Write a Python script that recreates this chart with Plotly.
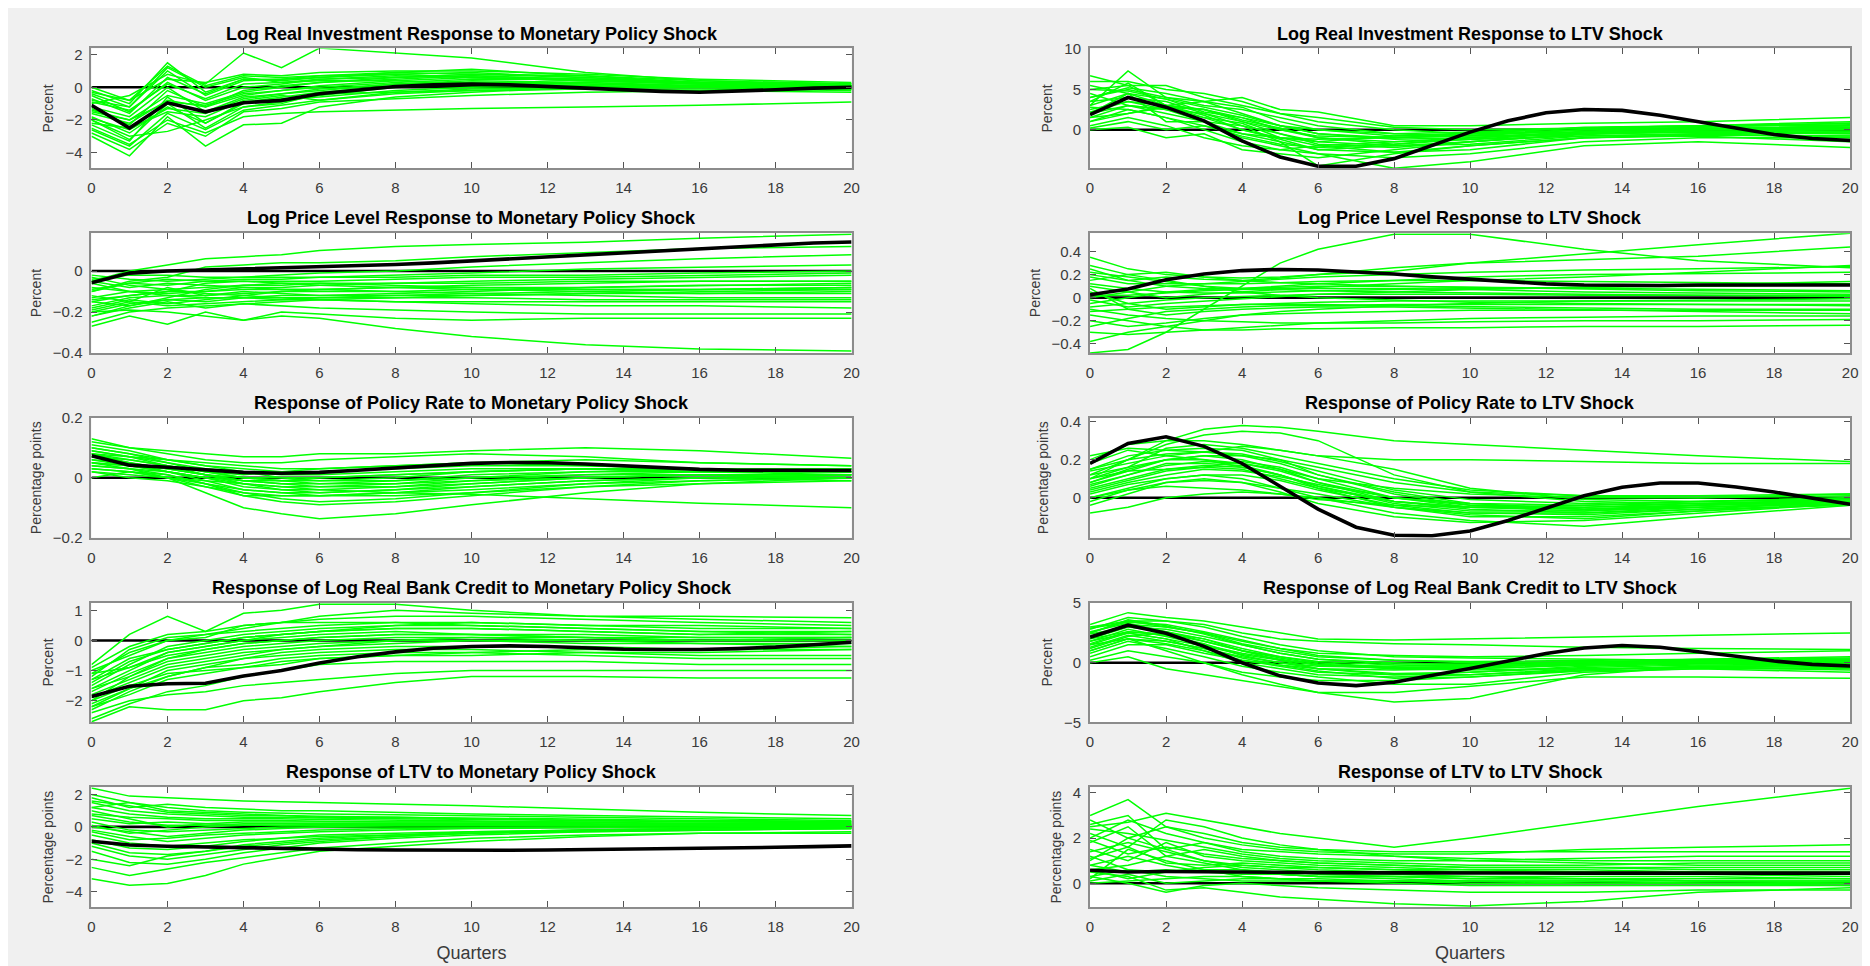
import plotly.graph_objects as go

# ---------------- data ----------------
QUARTERS = list(range(21))
GRID_Q = [0, 1, 2, 3, 4, 5, 6, 8, 10, 13, 16, 20]   # quarters at which country lines were read
X_TICKS = list(range(0, 21, 2))

# Panel 1: Log Real Investment Response to Monetary Policy Shock
TITLE_INV_MP = "Log Real Investment Response to Monetary Policy Shock"
MEAN_INV_MP = [-1.1, -2.5, -0.95, -1.5, -0.95, -0.8, -0.4, -0.15, 0.05, 0.15, 0.2,
               0.15, 0.05, -0.05, -0.2, -0.25, -0.3, -0.25, -0.15, -0.05, 0.0]
LINES_INV_MP = [
    [-0.2, -1.0, 1.5, -0.3, 0.5, 0.4, 0.6, 0.8, 0.9, 0.6, 0.3, 0.1],
    [-3.0, -4.2, -1.8, -3.6, -2.3, -2.2, -1.2, -0.6, -0.3, 0.0, 0.1, 0.0],
    [-1.0, -0.5, 0.8, 0.2, 2.1, 1.2, 2.4, 2.1, 1.8, 0.9, 0.4, 0.2],
    [-2.0, -3.0, -2.7, -2.0, -1.2, -0.9, -0.5, 0.0, 0.3, 0.3, 0.1, 0.0],
    [-0.5, -1.5, 0.3, -0.8, 0.0, 0.2, 0.5, 0.7, 0.6, 0.4, 0.2, 0.1],
    [-2.5, -3.5, -2.0, -2.8, -1.8, -1.6, -1.5, -1.4, -1.3, -1.2, -1.1, -0.9],
    [-1.5, -2.0, -0.5, -1.0, -0.3, 0.0, 0.3, 0.5, 0.7, 0.5, 0.2, 0.0],
    [0.0, -0.8, 0.5, 0.3, 0.8, 0.7, 0.9, 1.0, 1.0, 0.8, 0.5, 0.3],
    [-1.8, -2.8, -1.2, -2.2, -1.0, -0.7, -0.6, -0.2, 0.0, 0.1, 0.0, -0.1],
    [-1.2, -1.8, 0.0, -1.5, -0.6, -0.4, -0.2, 0.2, 0.4, 0.3, 0.1, 0.0],
    [-2.2, -2.5, -1.5, -1.8, -0.8, -0.5, -0.8, -0.4, -0.2, -0.1, -0.2, -0.3],
    [-0.8, -1.2, 1.0, -0.5, 0.4, 0.5, 0.7, 0.9, 0.8, 0.7, 0.4, 0.2],
    [-2.8, -3.8, -2.2, -3.0, -1.5, -1.3, -0.9, -0.7, -0.5, -0.3, -0.2, -0.1],
    [-1.6, -2.2, -0.8, -1.2, -0.5, -0.2, 0.0, 0.3, 0.5, 0.5, 0.3, 0.1],
    [-0.4, -1.2, 1.2, 0.0, 0.6, 0.3, 0.4, 0.4, 0.2, 0.2, 0.1, 0.0],
    [-2.0, -3.2, -1.0, -2.5, -1.2, -1.0, -0.4, -0.3, -0.2, -0.1, -0.1, -0.2],
    [-1.3, -2.3, -0.2, -1.2, -0.2, 0.1, 0.3, 0.6, 0.7, 0.5, 0.3, 0.1],
    [-0.7, -1.6, 0.6, -0.4, 0.5, 0.5, 0.6, 0.9, 1.1, 0.7, 0.3, 0.1],
    [-1.9, -2.6, -1.3, -1.6, -0.7, -0.4, -0.1, 0.2, 0.3, 0.2, 0.0, -0.1],
    [-2.3, -3.3, -0.6, -2.2, -0.9, -0.6, -0.3, 0.1, 0.2, 0.1, 0.0, 0.0],
    [-0.9, -1.4, 0.2, -0.7, 0.2, 0.3, 0.5, 0.6, 0.8, 0.6, 0.3, 0.2],
    [-1.4, -2.0, -0.9, -1.1, -0.4, -0.2, 0.1, 0.4, 0.6, 0.4, 0.2, 0.0],
    [-0.3, -0.8, 1.3, 0.1, 0.7, 0.6, 0.7, 0.8, 0.6, 0.4, 0.2, 0.1],
    [-2.6, -3.6, -1.6, -2.6, -1.4, -1.1, -0.8, -0.3, -0.1, 0.0, 0.0, -0.1],
]

# Panel 2: Log Real Investment Response to LTV Shock
TITLE_INV_LTV = "Log Real Investment Response to LTV Shock"
MEAN_INV_LTV = [1.86, 4.0, 2.8, 1.1, -1.4, -3.4, -4.55, -4.55, -3.6, -2.0, -0.3,
                1.1, 2.1, 2.5, 2.4, 1.8, 1.0, 0.1, -0.6, -1.1, -1.35]
LINES_INV_LTV = [
    [6.7, 5.5, 5.5, 4.0, 3.0, 2.0, 1.0, 0.0, -0.5, -0.3, 0.0, 0.5],
    [0.0, 0.3, -1.0, -0.5, -2.5, -3.0, -3.5, -2.5, -1.5, -0.5, -0.3, -0.5],
    [3.0, 7.3, 4.0, 3.5, 4.0, 2.5, 2.2, 0.5, 0.5, 0.8, 1.0, 1.5],
    [2.0, 3.0, 2.0, 1.0, -1.0, -2.0, -3.0, -4.8, -4.0, -2.0, -1.5, -2.2],
    [5.5, 4.5, 3.0, 2.5, 1.0, 0.0, -1.0, -1.5, -1.2, -0.8, -0.5, -0.3],
    [1.0, 2.5, 1.5, 0.0, -1.5, -2.5, -3.0, -3.5, -3.0, -1.5, -1.0, -1.0],
    [4.0, 5.0, 4.0, 3.0, 2.5, 1.5, 0.5, -0.5, -0.8, -0.5, 0.0, 0.5],
    [0.5, 1.5, 0.5, -1.0, -2.0, -2.5, -2.0, -1.5, -1.0, -0.5, 0.0, 0.2],
    [3.5, 4.0, 3.5, 2.0, 1.0, -0.5, -1.5, -2.0, -1.5, -0.5, -0.3, -0.5],
    [6.0, 6.0, 5.0, 4.5, 3.5, 2.0, 1.5, 0.3, 0.0, 0.2, 0.5, 1.0],
    [2.5, 3.5, 2.5, 1.5, 0.0, -1.0, -2.0, -2.8, -2.5, -1.0, -0.8, -1.5],
    [1.5, 2.0, 3.0, 2.5, 1.5, 0.5, -0.5, -1.0, -0.8, 0.0, 0.3, 0.8],
    [4.5, 3.0, 2.5, 1.0, -0.5, -1.5, -4.5, -3.0, -2.0, -1.0, -0.6, -0.8],
    [0.2, 1.0, 0.0, 0.5, -0.5, -1.0, -1.2, -1.0, -0.5, 0.0, 0.0, -0.2],
    [5.0, 5.5, 3.0, 3.5, 2.0, 0.5, 0.0, -0.8, -0.5, 0.3, 0.5, 0.5],
    [2.0, 4.5, 1.0, 1.0, 0.5, -1.5, -2.5, -2.0, -1.8, -0.8, -0.5, -1.0],
    [3.0, 4.5, 3.8, 2.8, 1.8, 0.5, -0.5, -1.2, -1.0, -0.3, 0.0, 0.0],
    [1.5, 3.0, 2.5, 2.0, 0.5, -0.5, -1.8, -2.2, -1.5, -0.6, -0.2, -0.3],
    [4.0, 5.2, 4.5, 3.5, 2.8, 1.0, 0.0, -0.5, -0.3, 0.2, 0.4, 0.6],
    [2.2, 3.5, 3.0, 1.8, 0.0, -1.2, -2.5, -2.8, -2.0, -1.0, -0.7, -0.8],
    [5.0, 4.8, 3.8, 2.2, 1.5, 0.0, -0.8, -1.0, -0.7, 0.0, 0.2, 0.3],
    [1.0, 2.0, 2.8, 2.5, 1.2, 0.2, -1.0, -1.8, -1.2, -0.4, 0.0, 0.2],
    [3.5, 5.8, 3.0, 1.5, 0.8, -1.0, -1.5, -0.8, -0.4, 0.2, 0.5, 0.8],
    [2.8, 2.5, 1.5, 0.5, -0.8, -1.8, -2.2, -1.8, -1.0, -0.2, 0.2, 0.0],
]

# Panel 3: Log Price Level Response to Monetary Policy Shock
TITLE_P_MP = "Log Price Level Response to Monetary Policy Shock"
MEAN_P_MP = [-0.057, -0.01, 0.0, 0.005, 0.01, 0.013, 0.018, 0.024, 0.032, 0.04, 0.05,
             0.06, 0.07, 0.08, 0.09, 0.10, 0.11, 0.12, 0.13, 0.137, 0.142]
LINES_P_MP = [
    [-0.05, 0.0, 0.03, 0.06, 0.07, 0.08, 0.10, 0.12, 0.13, 0.14, 0.16, 0.18],
    [-0.20, -0.19, -0.20, -0.22, -0.24, -0.22, -0.23, -0.28, -0.32, -0.36, -0.38, -0.39],
    [-0.10, -0.05, -0.03, 0.02, 0.03, 0.04, 0.04, 0.05, 0.07, 0.09, 0.11, 0.12],
    [-0.27, -0.22, -0.26, -0.20, -0.24, -0.20, -0.21, -0.23, -0.24, -0.23, -0.23, -0.23],
    [-0.15, -0.12, -0.10, -0.10, -0.08, -0.08, -0.07, -0.06, -0.05, -0.04, -0.03, -0.02],
    [-0.08, -0.10, -0.12, -0.13, -0.13, -0.14, -0.14, -0.15, -0.15, -0.15, -0.15, -0.15],
    [-0.22, -0.18, -0.15, -0.18, -0.16, -0.17, -0.18, -0.19, -0.20, -0.21, -0.21, -0.21],
    [-0.02, -0.04, -0.05, -0.04, -0.03, -0.02, -0.01, 0.00, 0.02, 0.04, 0.06, 0.08],
    [-0.12, -0.15, -0.08, -0.12, -0.10, -0.11, -0.12, -0.12, -0.12, -0.11, -0.11, -0.10],
    [-0.18, -0.14, -0.16, -0.14, -0.12, -0.10, -0.09, -0.08, -0.07, -0.06, -0.05, -0.05],
    [-0.05, -0.08, -0.06, -0.07, -0.08, -0.09, -0.09, -0.10, -0.11, -0.12, -0.13, -0.13],
    [-0.25, -0.20, -0.18, -0.17, -0.16, -0.15, -0.14, -0.13, -0.12, -0.11, -0.10, -0.09],
    [-0.10, -0.06, -0.04, -0.05, -0.04, -0.04, -0.03, -0.02, -0.01, 0.01, 0.02, 0.03],
    [-0.15, -0.17, -0.13, -0.09, -0.07, -0.06, -0.06, -0.07, -0.08, -0.09, -0.09, -0.09],
    [-0.03, -0.07, -0.09, -0.11, -0.12, -0.13, -0.14, -0.15, -0.16, -0.17, -0.17, -0.18],
    [-0.20, -0.16, -0.14, -0.15, -0.13, -0.12, -0.12, -0.11, -0.10, -0.08, -0.07, -0.06],
    [-0.13, -0.10, -0.09, -0.08, -0.07, -0.07, -0.06, -0.06, -0.06, -0.05, -0.05, -0.05],
    [-0.06, -0.10, -0.11, -0.10, -0.09, -0.09, -0.09, -0.08, -0.08, -0.08, -0.07, -0.07],
    [-0.17, -0.13, -0.12, -0.12, -0.11, -0.10, -0.10, -0.10, -0.09, -0.09, -0.09, -0.08],
    [-0.09, -0.06, -0.07, -0.05, -0.05, -0.05, -0.05, -0.04, -0.03, -0.03, -0.02, -0.01],
    [-0.22, -0.17, -0.14, -0.13, -0.13, -0.13, -0.13, -0.13, -0.13, -0.14, -0.14, -0.14],
    [-0.04, -0.02, -0.02, -0.03, -0.03, -0.03, -0.03, -0.03, -0.02, -0.02, -0.01, 0.00],
    [-0.14, -0.12, -0.10, -0.06, -0.05, -0.06, -0.07, -0.08, -0.09, -0.10, -0.11, -0.11],
    [-0.19, -0.15, -0.17, -0.16, -0.15, -0.14, -0.13, -0.12, -0.11, -0.10, -0.09, -0.08],
]

# Panel 4: Log Price Level Response to LTV Shock
TITLE_P_LTV = "Log Price Level Response to LTV Shock"
MEAN_P_LTV = [0.025, 0.075, 0.155, 0.205, 0.235, 0.245, 0.24, 0.225, 0.205, 0.18, 0.16,
              0.14, 0.12, 0.11, 0.105, 0.105, 0.11, 0.11, 0.115, 0.115, 0.11]
LINES_P_LTV = [
    [-0.48, -0.45, -0.30, -0.10, 0.10, 0.30, 0.42, 0.55, 0.55, 0.42, 0.32, 0.26],
    [0.35, 0.25, 0.20, 0.18, 0.17, 0.18, 0.20, 0.23, 0.30, 0.38, 0.46, 0.56],
    [0.20, 0.15, 0.18, 0.16, 0.15, 0.17, 0.20, 0.26, 0.30, 0.33, 0.36, 0.44],
    [-0.30, -0.32, -0.30, -0.28, -0.28, -0.27, -0.27, -0.26, -0.26, -0.25, -0.25, -0.24],
    [0.10, 0.05, 0.00, 0.03, 0.05, 0.07, 0.09, 0.12, 0.15, 0.18, 0.22, 0.28],
    [-0.10, -0.15, -0.18, -0.20, -0.21, -0.22, -0.22, -0.22, -0.21, -0.20, -0.20, -0.19],
    [0.25, 0.15, 0.10, 0.08, 0.08, 0.10, 0.12, 0.15, 0.18, 0.20, 0.21, 0.22],
    [0.05, -0.05, -0.10, -0.08, -0.06, -0.05, -0.04, -0.03, -0.03, -0.03, -0.03, -0.03],
    [-0.20, -0.25, -0.22, -0.18, -0.15, -0.14, -0.13, -0.12, -0.11, -0.11, -0.11, -0.11],
    [0.15, 0.20, 0.22, 0.18, 0.15, 0.13, 0.12, 0.10, 0.09, 0.08, 0.07, 0.06],
    [-0.05, 0.00, 0.05, 0.07, 0.08, 0.09, 0.10, 0.10, 0.09, 0.08, 0.06, 0.05],
    [-0.38, -0.30, -0.25, -0.20, -0.15, -0.12, -0.10, -0.07, -0.05, -0.03, -0.02, -0.01],
    [0.08, -0.10, -0.15, -0.12, -0.10, -0.09, -0.08, -0.08, -0.09, -0.10, -0.12, -0.14],
    [-0.15, -0.20, -0.25, -0.28, -0.26, -0.24, -0.22, -0.20, -0.18, -0.17, -0.16, -0.16],
    [0.28, 0.20, 0.15, 0.10, 0.05, 0.02, 0.00, -0.02, -0.04, -0.05, -0.06, -0.07],
    [0.00, 0.05, 0.10, 0.12, 0.14, 0.16, 0.18, 0.20, 0.22, 0.24, 0.25, 0.27],
    [0.12, 0.08, 0.05, 0.04, 0.04, 0.05, 0.06, 0.07, 0.08, 0.09, 0.10, 0.11],
    [-0.08, -0.05, -0.02, 0.00, 0.01, 0.02, 0.03, 0.03, 0.03, 0.02, 0.02, 0.02],
    [0.18, 0.12, 0.12, 0.12, 0.12, 0.13, 0.14, 0.15, 0.15, 0.14, 0.13, 0.12],
    [-0.25, -0.18, -0.12, -0.10, -0.08, -0.07, -0.07, -0.06, -0.06, -0.06, -0.06, -0.06],
    [0.02, 0.02, 0.04, 0.06, 0.07, 0.08, 0.08, 0.08, 0.07, 0.05, 0.04, 0.03],
    [-0.12, -0.10, -0.08, -0.07, -0.06, -0.06, -0.06, -0.07, -0.08, -0.09, -0.10, -0.10],
    [0.22, 0.18, 0.14, 0.10, 0.08, 0.07, 0.06, 0.05, 0.04, 0.03, 0.02, 0.01],
    [-0.02, -0.08, -0.05, -0.03, -0.01, 0.01, 0.03, 0.05, 0.07, 0.09, 0.11, 0.14],
]

# Panel 5: Response of Policy Rate to Monetary Policy Shock
TITLE_R_MP = "Response of Policy Rate to Monetary Policy Shock"
MEAN_R_MP = [0.073, 0.042, 0.035, 0.028, 0.018, 0.015, 0.018, 0.025, 0.033, 0.042, 0.048,
             0.051, 0.05, 0.046, 0.04, 0.033, 0.028, 0.025, 0.024, 0.024, 0.024]
LINES_R_MP = [
    [0.13, 0.10, 0.09, 0.08, 0.07, 0.07, 0.08, 0.08, 0.09, 0.10, 0.09, 0.065],
    [0.05, 0.03, 0.00, -0.05, -0.10, -0.12, -0.137, -0.12, -0.09, -0.05, -0.02, 0.00],
    [0.10, 0.08, 0.05, 0.02, 0.00, -0.01, -0.02, -0.02, -0.01, 0.00, 0.01, 0.01],
    [0.02, 0.01, 0.00, -0.01, -0.02, -0.03, -0.04, -0.05, -0.055, -0.07, -0.085, -0.10],
    [0.08, 0.06, 0.04, 0.02, 0.01, 0.02, 0.03, 0.04, 0.05, 0.04, 0.03, 0.02],
    [0.04, 0.03, 0.01, -0.02, -0.05, -0.07, -0.08, -0.07, -0.05, -0.02, 0.00, 0.01],
    [0.12, 0.10, 0.08, 0.06, 0.05, 0.05, 0.06, 0.07, 0.08, 0.07, 0.05, 0.04],
    [0.06, 0.04, 0.02, 0.00, -0.03, -0.04, -0.05, -0.04, -0.02, 0.00, 0.01, 0.00],
    [0.00, 0.02, 0.01, -0.02, -0.06, -0.08, -0.09, -0.08, -0.06, -0.03, -0.01, 0.00],
    [0.09, 0.07, 0.05, 0.03, 0.02, 0.01, 0.01, 0.02, 0.03, 0.03, 0.02, 0.01],
    [0.03, 0.02, 0.00, -0.02, -0.04, -0.05, -0.05, -0.04, -0.03, -0.01, 0.00, -0.01],
    [0.07, 0.05, 0.03, 0.01, -0.01, -0.02, -0.03, -0.02, 0.00, 0.02, 0.03, 0.03],
    [0.11, 0.09, 0.06, 0.04, 0.02, 0.00, -0.01, -0.01, 0.00, 0.01, 0.02, 0.02],
    [0.05, 0.04, 0.03, 0.01, 0.00, 0.00, 0.00, 0.01, 0.02, 0.03, 0.03, 0.02],
    [0.02, 0.00, -0.01, -0.03, -0.05, -0.06, -0.06, -0.06, -0.05, -0.03, -0.02, -0.01],
    [0.08, 0.07, 0.06, 0.05, 0.04, 0.03, 0.03, 0.04, 0.05, 0.06, 0.05, 0.04],
    [0.06, 0.05, 0.03, 0.01, -0.01, -0.02, -0.02, -0.01, 0.01, 0.02, 0.02, 0.02],
    [0.09, 0.07, 0.04, 0.01, -0.02, -0.04, -0.04, -0.03, -0.01, 0.01, 0.01, 0.01],
    [0.04, 0.03, 0.02, 0.00, -0.01, -0.01, 0.00, 0.01, 0.02, 0.03, 0.02, 0.02],
    [0.07, 0.06, 0.04, 0.02, 0.00, -0.01, -0.01, 0.00, 0.02, 0.03, 0.03, 0.03],
    [0.03, 0.02, 0.00, -0.03, -0.06, -0.06, -0.06, -0.05, -0.04, -0.02, -0.01, 0.00],
    [0.10, 0.08, 0.06, 0.04, 0.03, 0.02, 0.02, 0.03, 0.04, 0.04, 0.03, 0.03],
    [0.05, 0.04, 0.02, 0.00, -0.02, -0.03, -0.03, -0.03, -0.02, 0.00, 0.01, 0.01],
    [0.08, 0.05, 0.02, -0.01, -0.04, -0.05, -0.06, -0.05, -0.03, -0.01, 0.00, 0.00],
]

# Panel 6: Response of Policy Rate to LTV Shock
TITLE_R_LTV = "Response of Policy Rate to LTV Shock"
MEAN_R_LTV = [0.18, 0.285, 0.32, 0.27, 0.18, 0.06, -0.06, -0.155, -0.197, -0.2, -0.175,
              -0.12, -0.056, 0.01, 0.055, 0.077, 0.077, 0.056, 0.03, 0.0, -0.034]
LINES_R_LTV = [
    [0.10, 0.20, 0.30, 0.36, 0.38, 0.37, 0.35, 0.30, 0.28, 0.25, 0.22, 0.19],
    [0.20, 0.28, 0.30, 0.30, 0.28, 0.25, 0.22, 0.20, 0.20, 0.19, 0.18, 0.18],
    [-0.08, -0.05, 0.00, 0.02, 0.03, 0.02, 0.00, -0.05, -0.08, -0.09, -0.06, -0.02],
    [0.15, 0.22, 0.25, 0.26, 0.25, 0.20, 0.12, 0.03, -0.03, -0.06, -0.04, -0.02],
    [0.05, 0.10, 0.15, 0.16, 0.15, 0.10, 0.05, -0.02, -0.05, -0.07, -0.05, -0.03],
    [0.12, 0.20, 0.28, 0.33, 0.35, 0.34, 0.30, 0.12, 0.03, -0.02, -0.03, -0.01],
    [0.00, 0.05, 0.10, 0.12, 0.10, 0.05, 0.00, -0.08, -0.12, -0.15, -0.10, -0.04],
    [0.18, 0.25, 0.22, 0.20, 0.18, 0.15, 0.10, 0.05, 0.02, 0.00, 0.00, 0.01],
    [0.08, 0.15, 0.20, 0.22, 0.20, 0.15, 0.08, -0.02, -0.05, -0.05, -0.03, -0.01],
    [-0.04, 0.02, 0.08, 0.10, 0.08, 0.03, -0.03, -0.10, -0.13, -0.12, -0.08, -0.03],
    [0.22, 0.26, 0.25, 0.24, 0.22, 0.20, 0.16, 0.08, 0.03, 0.01, 0.01, 0.02],
    [0.03, 0.08, 0.12, 0.15, 0.14, 0.11, 0.07, 0.00, -0.03, -0.04, -0.03, -0.02],
    [0.14, 0.18, 0.22, 0.24, 0.27, 0.25, 0.22, 0.15, 0.05, -0.01, -0.02, 0.00],
    [0.06, 0.12, 0.18, 0.18, 0.17, 0.12, 0.05, -0.05, -0.10, -0.10, -0.07, -0.03],
    [-0.02, 0.04, 0.06, 0.05, 0.04, 0.02, -0.01, -0.04, -0.05, -0.04, -0.02, -0.01],
    [0.10, 0.16, 0.26, 0.28, 0.26, 0.22, 0.18, 0.10, 0.04, 0.01, 0.00, 0.02],
    [0.07, 0.12, 0.17, 0.19, 0.18, 0.14, 0.08, 0.00, -0.04, -0.06, -0.04, -0.02],
    [0.12, 0.16, 0.20, 0.22, 0.22, 0.18, 0.12, 0.02, -0.04, -0.05, -0.04, -0.01],
    [0.02, 0.07, 0.10, 0.12, 0.12, 0.09, 0.04, -0.04, -0.08, -0.08, -0.05, -0.02],
    [0.10, 0.14, 0.15, 0.17, 0.16, 0.12, 0.06, -0.03, -0.07, -0.07, -0.04, -0.02],
    [0.04, 0.09, 0.14, 0.16, 0.19, 0.16, 0.10, 0.00, -0.05, -0.06, -0.05, -0.03],
    [0.15, 0.20, 0.23, 0.24, 0.23, 0.19, 0.14, 0.04, -0.01, -0.03, -0.02, 0.00],
    [0.00, 0.04, 0.08, 0.09, 0.08, 0.05, 0.02, -0.05, -0.09, -0.11, -0.07, -0.03],
    [0.08, 0.14, 0.20, 0.20, 0.16, 0.12, 0.06, -0.02, -0.06, -0.08, -0.06, -0.04],
]

# Panel 7: Response of Log Real Bank Credit to Monetary Policy Shock
TITLE_C_MP = "Response of Log Real Bank Credit to Monetary Policy Shock"
MEAN_C_MP = [-1.86, -1.52, -1.44, -1.42, -1.18, -1.0, -0.75, -0.54, -0.38, -0.26, -0.2,
             -0.18, -0.2, -0.25, -0.29, -0.3, -0.3, -0.27, -0.22, -0.14, -0.06]
LINES_C_MP = [
    [-2.7, -2.2, -2.3, -2.3, -2.0, -1.9, -1.7, -1.4, -1.2, -1.2, -1.25, -1.25],
    [-0.8, 0.2, 0.8, 0.3, 0.9, 1.0, 1.2, 1.2, 1.0, 0.8, 0.7, 0.6],
    [-1.5, -0.8, -0.2, 0.0, 0.2, 0.3, 0.4, 0.5, 0.5, 0.4, 0.3, 0.2],
    [-2.4, -2.0, -1.8, -1.7, -1.5, -1.4, -1.3, -1.1, -1.0, -1.0, -1.0, -1.0],
    [-1.2, -0.3, 0.1, 0.2, 0.4, 0.6, 0.7, 0.8, 0.8, 0.7, 0.6, 0.5],
    [-2.0, -1.2, -0.6, -0.4, -0.2, -0.1, 0.0, 0.1, 0.1, 0.0, -0.1, -0.1],
    [-1.0, -0.5, 0.0, 0.1, 0.5, 0.6, 0.8, 1.0, 0.9, 0.8, 0.8, 0.75],
    [-2.2, -1.6, -1.0, -0.8, -0.6, -0.5, -0.4, -0.3, -0.3, -0.4, -0.5, -0.5],
    [-1.6, -1.0, -0.4, -0.2, 0.0, 0.1, 0.2, 0.3, 0.2, 0.1, 0.0, 0.0],
    [-2.6, -2.1, -1.7, -1.5, -1.2, -1.0, -0.8, -0.7, -0.7, -0.7, -0.8, -0.8],
    [-0.9, -0.2, 0.2, 0.3, 0.5, 0.6, 0.6, 0.6, 0.5, 0.4, 0.3, 0.3],
    [-1.8, -1.3, -0.8, -0.6, -0.4, -0.3, -0.2, -0.1, 0.0, 0.0, 0.0, 0.1],
    [-1.3, -0.6, -0.3, -0.1, 0.1, 0.2, 0.3, 0.4, 0.4, 0.3, 0.2, 0.3],
    [-2.3, -1.7, -1.2, -0.9, -0.8, -0.6, -0.5, -0.4, -0.4, -0.5, -0.6, -0.6],
    [-1.1, -0.9, -0.5, -0.3, -0.1, 0.0, 0.1, 0.2, 0.2, 0.2, 0.1, 0.1],
    [-2.0, -1.5, -1.1, -1.0, -0.9, -0.8, -0.6, -0.5, -0.4, -0.3, -0.3, -0.2],
    [-1.9, -1.4, -0.9, -0.7, -0.5, -0.3, -0.2, 0.0, 0.1, 0.1, 0.0, 0.0],
    [-1.4, -0.7, -0.3, -0.1, 0.1, 0.2, 0.3, 0.4, 0.4, 0.3, 0.2, 0.2],
    [-2.1, -1.6, -1.2, -0.9, -0.6, -0.4, -0.3, -0.2, -0.2, -0.2, -0.3, -0.3],
    [-1.7, -1.1, -0.6, -0.3, -0.1, 0.0, 0.1, 0.2, 0.2, 0.1, 0.1, 0.1],
    [-1.3, -0.9, -0.4, -0.2, 0.0, 0.2, 0.3, 0.5, 0.6, 0.5, 0.4, 0.4],
    [-2.2, -1.8, -1.3, -1.1, -0.9, -0.7, -0.6, -0.5, -0.5, -0.4, -0.4, -0.3],
    [-1.6, -1.2, -0.7, -0.5, -0.3, -0.2, -0.1, 0.0, 0.0, -0.1, -0.1, -0.2],
    [-1.1, -0.4, 0.0, 0.2, 0.3, 0.4, 0.5, 0.6, 0.6, 0.5, 0.5, 0.4],
]

# Panel 8: Response of Log Real Bank Credit to LTV Shock
TITLE_C_LTV = "Response of Log Real Bank Credit to LTV Shock"
MEAN_C_LTV = [2.14, 3.15, 2.47, 1.37, 0.0, -1.1, -1.7, -1.92, -1.64, -1.1, -0.49,
              0.14, 0.77, 1.23, 1.45, 1.3, 0.96, 0.55, 0.14, -0.14, -0.27]
LINES_C_LTV = [
    [3.2, 4.2, 3.8, 3.5, 3.0, 2.5, 2.0, 1.9, 2.0, 2.2, 2.3, 2.5],
    [0.0, 0.5, -0.5, -1.0, -1.5, -2.0, -2.5, -2.5, -2.0, -1.2, -1.2, -1.3],
    [2.5, 3.5, 3.5, 3.0, 2.2, 1.5, 1.0, 0.5, 0.4, 0.3, 0.2, 0.2],
    [1.0, 2.0, 1.0, 0.0, -1.0, -1.8, -2.5, -3.3, -3.0, -1.0, -0.3, -0.2],
    [2.8, 3.8, 3.5, 3.2, 2.5, 2.0, 1.8, 1.6, 1.5, 1.3, 1.2, 1.1],
    [1.5, 2.5, 2.0, 1.0, 0.0, -0.5, -1.0, -1.2, -1.0, -0.6, -0.3, -0.2],
    [0.5, 1.5, 1.5, 0.8, 0.2, -0.2, -0.5, -0.6, -0.5, -0.2, 0.0, 0.1],
    [2.0, 3.0, 2.8, 2.2, 1.5, 0.8, 0.3, 0.0, -0.2, -0.2, 0.0, 0.1],
    [1.2, 2.2, 2.5, 2.0, 1.0, 0.2, -0.5, -1.0, -1.0, -0.5, -0.4, -0.6],
    [3.0, 3.5, 3.0, 2.5, 1.8, 1.2, 0.8, 0.6, 0.5, 0.6, 0.8, 1.0],
    [0.2, 1.0, 0.5, 0.0, -0.8, -1.2, -1.5, -1.5, -1.2, -0.7, -0.5, -0.5],
    [1.8, 2.8, 2.2, 1.5, 0.8, 0.3, -0.2, -0.5, -0.6, -0.5, -0.4, -0.3],
    [2.2, 3.2, 3.0, 2.5, 1.6, 1.0, 0.5, 0.2, 0.0, 0.0, 0.1, 0.3],
    [0.8, 1.8, 1.2, 0.5, -0.3, -0.8, -1.2, -1.8, -1.8, -0.8, -0.5, -0.8],
    [1.5, 2.0, 1.8, 1.2, 0.5, 0.0, -0.3, -0.4, -0.3, -0.1, 0.1, 0.3],
    [2.6, 3.3, 2.6, 1.8, 1.0, 0.5, 0.1, -0.2, -0.3, 0.0, 0.3, 0.5],
    [1.6, 2.6, 2.4, 1.8, 1.0, 0.4, -0.1, -0.5, -0.5, -0.2, 0.0, 0.0],
    [2.4, 3.0, 2.6, 2.0, 1.2, 0.5, 0.0, -0.4, -0.4, -0.1, 0.1, 0.2],
    [1.0, 2.0, 1.6, 1.0, 0.2, -0.3, -0.8, -1.0, -0.8, -0.4, -0.2, -0.1],
    [2.0, 2.6, 2.3, 1.6, 0.6, 0.0, -0.5, -0.9, -0.8, -0.3, -0.1, 0.0],
    [2.9, 3.4, 3.2, 2.6, 1.9, 1.2, 0.6, 0.2, 0.1, 0.2, 0.3, 0.4],
    [1.3, 2.3, 1.8, 1.2, 0.4, -0.2, -0.7, -1.3, -1.2, -0.6, -0.3, -0.4],
    [1.8, 2.5, 2.0, 1.4, 0.7, 0.2, -0.2, -0.3, -0.2, 0.0, 0.0, -0.2],
    [2.5, 3.6, 3.1, 2.4, 1.5, 0.8, 0.3, -0.1, -0.1, 0.1, 0.2, 0.3],
]

# Panel 9: Response of LTV to Monetary Policy Shock
TITLE_L_MP = "Response of LTV to Monetary Policy Shock"
MEAN_L_MP = [-0.89, -1.12, -1.2, -1.25, -1.3, -1.34, -1.38, -1.41, -1.43, -1.45, -1.45,
             -1.44, -1.43, -1.41, -1.39, -1.37, -1.34, -1.3, -1.26, -1.22, -1.17]
LINES_L_MP = [
    [2.4, 1.9, 1.8, 1.7, 1.6, 1.55, 1.5, 1.4, 1.3, 1.1, 0.9, 0.7],
    [-3.2, -3.6, -3.5, -3.0, -2.3, -1.9, -1.5, -1.2, -0.9, -0.6, -0.4, -0.3],
    [1.5, 1.0, 0.8, 0.7, 0.6, 0.6, 0.55, 0.5, 0.45, 0.4, 0.35, 0.3],
    [-1.5, -2.2, -2.3, -2.0, -1.6, -1.3, -1.0, -0.7, -0.5, -0.3, -0.2, -0.1],
    [0.5, 0.2, 0.3, 0.2, 0.1, 0.1, 0.1, 0.1, 0.1, 0.1, 0.1, 0.1],
    [2.0, 1.5, 1.2, 1.0, 0.9, 0.85, 0.8, 0.75, 0.7, 0.6, 0.5, 0.4],
    [-0.5, -1.0, -1.2, -1.0, -0.8, -0.7, -0.6, -0.5, -0.4, -0.3, -0.2, -0.1],
    [-2.5, -3.0, -2.6, -2.2, -1.9, -1.6, -1.3, -1.0, -0.7, -0.5, -0.4, -0.4],
    [1.0, 0.5, 0.0, 0.2, 0.3, 0.3, 0.3, 0.3, 0.3, 0.3, 0.2, 0.2],
    [-1.0, -1.6, -1.7, -1.5, -1.2, -1.0, -0.8, -0.6, -0.4, -0.2, -0.1, 0.0],
    [0.0, -0.3, -0.6, -0.4, -0.2, -0.1, 0.0, 0.0, 0.0, 0.0, 0.0, 0.0],
    [1.8, 1.2, 1.4, 1.2, 1.1, 1.0, 1.0, 0.9, 0.8, 0.7, 0.6, 0.5],
    [-2.0, -2.4, -1.8, -1.5, -1.1, -0.9, -0.7, -0.5, -0.3, -0.2, -0.1, -0.1],
    [0.8, 0.6, 0.5, 0.4, 0.4, 0.4, 0.35, 0.3, 0.3, 0.25, 0.2, 0.2],
    [-0.2, -0.6, -0.9, -0.7, -0.5, -0.4, -0.3, -0.2, -0.1, -0.05, 0.0, 0.0],
    [1.2, 1.5, 1.0, 0.9, 0.8, 0.7, 0.6, 0.6, 0.5, 0.4, 0.3, 0.3],
    [0.3, -0.2, -0.3, -0.2, -0.1, 0.0, 0.0, 0.1, 0.1, 0.1, 0.1, 0.1],
    [-0.8, -1.3, -1.4, -1.2, -0.9, -0.7, -0.5, -0.4, -0.3, -0.2, -0.1, 0.0],
    [1.2, 0.8, 0.6, 0.5, 0.5, 0.5, 0.45, 0.4, 0.35, 0.3, 0.3, 0.25],
    [-0.3, -0.8, -0.7, -0.5, -0.4, -0.3, -0.2, -0.1, -0.05, 0.0, 0.0, 0.05],
    [0.7, 0.3, 0.1, 0.1, 0.2, 0.2, 0.2, 0.2, 0.2, 0.2, 0.15, 0.15],
    [-1.2, -1.8, -2.0, -1.7, -1.4, -1.1, -0.9, -0.6, -0.4, -0.25, -0.15, -0.1],
    [1.6, 1.3, 0.9, 0.8, 0.7, 0.7, 0.65, 0.6, 0.55, 0.45, 0.4, 0.35],
    [0.1, -0.4, -0.2, 0.0, 0.1, 0.1, 0.15, 0.15, 0.15, 0.15, 0.1, 0.1],
]

# Panel 10: Response of LTV to LTV Shock
TITLE_L_LTV = "Response of LTV to LTV Shock"
MEAN_L_LTV = [0.58, 0.5, 0.52, 0.5, 0.49, 0.48, 0.47, 0.46, 0.46, 0.45, 0.45,
              0.45, 0.45, 0.45, 0.45, 0.45, 0.45, 0.45, 0.45, 0.45, 0.45]
LINES_L_LTV = [
    [2.5, 2.7, 3.1, 2.8, 2.5, 2.2, 2.0, 1.6, 2.0, 2.7, 3.4, 4.2],
    [0.5, 0.3, -0.3, -0.2, -0.4, -0.6, -0.7, -0.9, -1.0, -0.8, -0.4, -0.2],
    [3.0, 3.7, 2.5, 2.0, 1.7, 1.5, 1.4, 1.3, 1.3, 1.5, 1.6, 1.7],
    [1.5, 1.0, 1.8, 1.2, 1.0, 0.9, 0.8, 0.7, 0.6, 0.6, 0.5, 0.5],
    [2.0, 2.8, 2.2, 1.8, 1.5, 1.4, 1.3, 1.2, 1.1, 1.0, 1.0, 1.0],
    [0.0, 0.1, 0.2, 0.3, 0.3, 0.2, 0.1, 0.0, -0.1, -0.1, -0.1, -0.1],
    [1.0, 2.0, 1.5, 1.0, 0.7, 0.6, 0.5, 0.4, 0.3, 0.3, 0.3, 0.2],
    [2.8, 2.0, 2.5, 2.2, 1.8, 1.6, 1.5, 1.4, 1.4, 1.4, 1.4, 1.4],
    [0.3, 0.0, -0.4, -0.1, 0.0, -0.1, -0.2, -0.3, -0.4, -0.4, -0.3, -0.3],
    [1.8, 2.5, 1.2, 1.5, 1.2, 1.0, 0.9, 0.8, 0.7, 0.7, 0.6, 0.6],
    [0.8, 1.2, 0.8, 0.5, 0.5, 0.4, 0.3, 0.3, 0.2, 0.2, 0.1, 0.1],
    [2.2, 1.6, 2.8, 2.5, 2.0, 1.7, 1.5, 1.2, 1.0, 0.9, 0.8, 0.8],
    [1.2, 0.6, 0.5, 0.7, 0.8, 0.7, 0.6, 0.5, 0.5, 0.4, 0.4, 0.3],
    [0.2, 1.5, 1.0, 0.6, 0.3, 0.2, 0.1, 0.1, 0.0, 0.0, 0.0, 0.0],
    [2.6, 3.0, 1.5, 1.8, 1.4, 1.2, 1.1, 1.0, 1.0, 1.1, 1.2, 1.2],
    [0.6, 0.8, 1.2, 0.9, 0.6, 0.4, 0.3, 0.2, 0.1, 0.1, 0.1, 0.0],
    [0.8, 0.5, 0.6, 0.5, 0.4, 0.4, 0.3, 0.3, 0.3, 0.2, 0.2, 0.2],
    [1.4, 1.8, 1.4, 1.0, 0.8, 0.7, 0.7, 0.6, 0.6, 0.5, 0.5, 0.4],
    [0.3, 0.6, 0.3, 0.2, 0.1, 0.1, 0.1, 0.1, 0.1, 0.1, 0.0, 0.0],
    [1.9, 1.3, 1.6, 1.3, 1.1, 1.0, 0.9, 0.8, 0.7, 0.7, 0.7, 0.7],
    [0.6, 0.2, 0.5, 0.6, 0.6, 0.5, 0.4, 0.3, 0.2, 0.2, 0.1, 0.1],
    [1.1, 1.6, 0.9, 0.8, 0.9, 0.8, 0.7, 0.6, 0.5, 0.5, 0.4, 0.4],
    [0.1, 0.4, 0.0, 0.1, 0.2, 0.2, 0.2, 0.1, 0.1, 0.0, 0.0, -0.1],
    [2.4, 2.2, 1.9, 1.6, 1.3, 1.1, 1.0, 0.9, 0.8, 0.8, 0.9, 0.9],
]

ZERO_LEVEL = [0.0 for _ in QUARTERS]

PANELS = [
    # (title, y label, mean, country lines, y range, y ticks)
    (TITLE_INV_MP, "Percent", MEAN_INV_MP, LINES_INV_MP, [-4.96, 2.38], [-4, -2, 0, 2]),
    (TITLE_INV_LTV, "Percent", MEAN_INV_LTV, LINES_INV_LTV, [-4.8, 10.1], [0, 5, 10]),
    (TITLE_P_MP, "Percent", MEAN_P_MP, LINES_P_MP, [-0.4, 0.185], [-0.4, -0.2, 0]),
    (TITLE_P_LTV, "Percent", MEAN_P_LTV, LINES_P_LTV, [-0.48, 0.56], [-0.4, -0.2, 0, 0.2, 0.4]),
    (TITLE_R_MP, "Percentage points", MEAN_R_MP, LINES_R_MP, [-0.2, 0.2], [-0.2, 0, 0.2]),
    (TITLE_R_LTV, "Percentage points", MEAN_R_LTV, LINES_R_LTV, [-0.21, 0.42], [0, 0.2, 0.4]),
    (TITLE_C_MP, "Percent", MEAN_C_MP, LINES_C_MP, [-2.72, 1.26], [-2, -1, 0, 1]),
    (TITLE_C_LTV, "Percent", MEAN_C_LTV, LINES_C_LTV, [-5, 5.05], [-5, 0, 5]),
    (TITLE_L_MP, "Percentage points", MEAN_L_MP, LINES_L_MP, [-4.95, 2.45], [-4, -2, 0, 2]),
    (TITLE_L_LTV, "Percentage points", MEAN_L_LTV, LINES_L_LTV, [-1.05, 4.25], [0, 2, 4]),
]

# ---------------- layout geometry (pixels) ----------------
W, H = 1870, 966
COL_LEFT = [80, 1085]
COL_WIDTH = 765
ROW_TOP = [32, 220, 408, 596, 784]
ROW_HEIGHT = 122

FONT = "Liberation Sans, Arial, Helvetica, sans-serif"
AXIS_COLOR = "#8c8c8c"
TEXT_COLOR = "#3a3a3a"

fig = go.Figure()
layout = dict(
    width=W, height=H,
    margin=dict(l=0, r=0, t=0, b=0),
    paper_bgcolor="#f0f0f0",
    plot_bgcolor="#ffffff",
    showlegend=False,
    font=dict(family=FONT, color=TEXT_COLOR),
    annotations=[],
)

for i, (title, ylab, mean, lines, yrange, yticks) in enumerate(PANELS):
    row, col = divmod(i, 2)
    n = i + 1
    xa = "x" if n == 1 else f"x{n}"
    ya = "y" if n == 1 else f"y{n}"

    # zero reference line
    fig.add_trace(go.Scatter(x=QUARTERS, y=ZERO_LEVEL, mode="lines",
                             line=dict(color="#000000", width=2.6),
                             xaxis=xa, yaxis=ya, hoverinfo="skip"))
    # individual responses
    for ln in lines:
        fig.add_trace(go.Scatter(x=GRID_Q, y=ln, mode="lines",
                                 line=dict(color="#00ff00", width=1.5),
                                 xaxis=xa, yaxis=ya, hoverinfo="skip"))
    # mean response
    fig.add_trace(go.Scatter(x=QUARTERS, y=mean, mode="lines",
                             line=dict(color="#000000", width=3.6),
                             xaxis=xa, yaxis=ya))

    x0 = COL_LEFT[col] / W
    x1 = (COL_LEFT[col] + COL_WIDTH) / W
    y1 = 1 - ROW_TOP[row] / H
    y0 = 1 - (ROW_TOP[row] + ROW_HEIGHT) / H

    xkey = "xaxis" if n == 1 else f"xaxis{n}"
    ykey = "yaxis" if n == 1 else f"yaxis{n}"
    xaxis = dict(
        domain=[x0, x1], anchor=ya, range=[0, 20],
        tickvals=X_TICKS, ticks="inside", ticklen=6, tickwidth=1.2,
        tickcolor="#555555", mirror="ticks", showline=True,
        linecolor=AXIS_COLOR, linewidth=2, showgrid=False, zeroline=False,
        tickfont=dict(size=15, color=TEXT_COLOR, family=FONT),
        ticklabelstandoff=5,
    )
    if row == 4:
        xaxis["title"] = dict(text="Quarters", font=dict(size=18, color=TEXT_COLOR, family=FONT),
                              standoff=12)
    layout[xkey] = xaxis
    layout[ykey] = dict(
        domain=[y0, y1], anchor=xa, range=yrange,
        tickvals=yticks, ticks="inside", ticklen=6, tickwidth=1.2,
        tickcolor="#555555", mirror="ticks", showline=True,
        linecolor=AXIS_COLOR, linewidth=2, showgrid=False, zeroline=False,
        tickfont=dict(size=15, color=TEXT_COLOR, family=FONT),
        ticklabelstandoff=4,
        title=dict(text=ylab, font=dict(size=14, color=TEXT_COLOR, family=FONT), standoff=8),
    )
    layout["annotations"].append(dict(
        text=f"<b>{title}</b>", xref="paper", yref="paper",
        x=(x0 + x1) / 2, y=1 - (ROW_TOP[row] - 15) / H,
        xanchor="center", yanchor="middle", showarrow=False,
        font=dict(size=18, color="#000000", family=FONT),
    ))

fig.update_layout(**layout)
fig.write_html("out.html")
